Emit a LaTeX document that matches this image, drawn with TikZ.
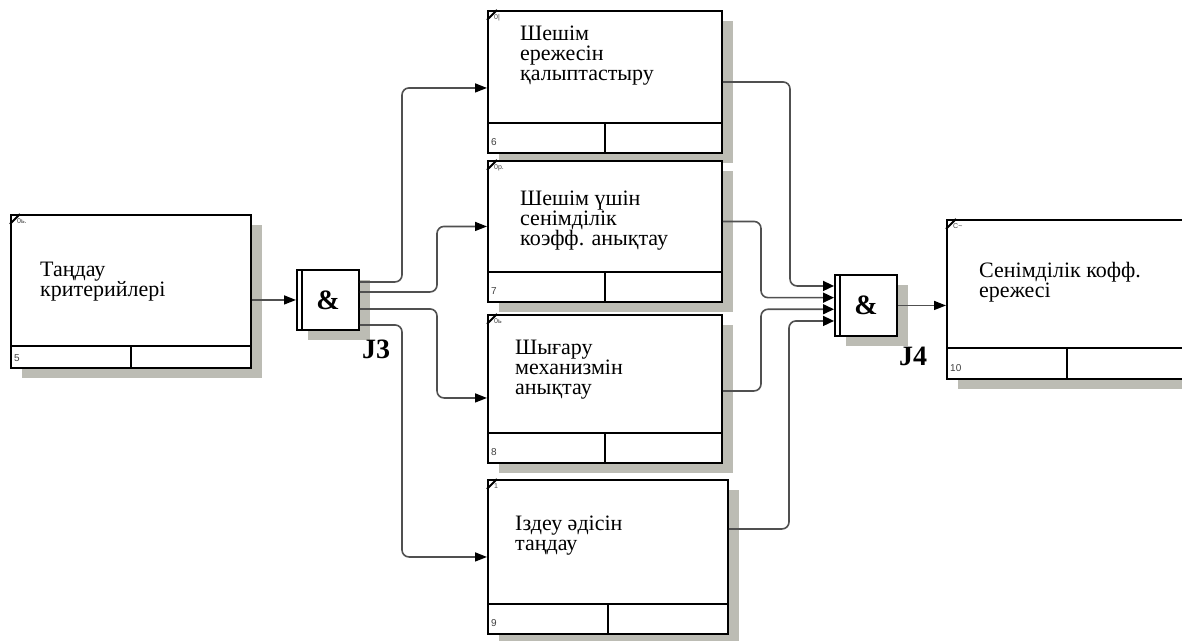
\documentclass[tikz,border=0pt]{standalone}
\usepackage{fontspec}
\setmainfont{Liberation Serif}
\newfontfamily\smallsans{Liberation Sans}
\usetikzlibrary{arrows.meta,shadows,positioning}

\definecolor{shadowgray}{RGB}{188,188,180}
\definecolor{flowgray}{RGB}{80,80,80}

\tikzset{
  uob/.style={rectangle, draw=black, line width=1.9pt, fill=white, inner sep=0pt, anchor=north west,
    drop shadow={shadow xshift=11pt, shadow yshift=-10pt, opacity=1, fill=shadowgray}},
  junc/.style={uob, minimum width=62pt, font=\fontsize{28}{28}\selectfont\bfseries},
  uobline/.style={line width=1.9pt},
  uobtext/.style={inner sep=0pt, align=left, font=\fontsize{22}{20}\selectfont},
  numtext/.style={inner sep=0pt, anchor=west, font=\smallsans\fontsize{10}{10}\selectfont, text=black!75},
  cornertext/.style={inner sep=0pt, font=\smallsans\fontsize{7}{7}\selectfont, text=black!75},
  jtext/.style={inner sep=0pt, font=\fontsize{28}{28}\selectfont\bfseries},
  flow/.style={draw=flowgray, line width=1.6pt, rounded corners=7pt,
    -{Triangle[length=12pt,width=9pt,color=black]}},
  jin/.style={flow, -{Triangle[length=11pt,width=10pt,color=black]}}
}

\begin{document}
\begin{tikzpicture}[x=1pt, y=-1pt]
\useasboundingbox (0,0) rectangle (1182,640);
\clip (0,0) rectangle (1182,640);

\node[uob, minimum width=240pt, minimum height=153pt] (b5) at (10,214) {};
\node[uob, minimum width=234pt, minimum height=142pt] (b6) at (487,10) {};
\node[uob, minimum width=234pt, minimum height=141pt] (b7) at (487,160) {};
\node[uob, minimum width=234pt, minimum height=148pt] (b8) at (487,314) {};
\node[uob, minimum width=240pt, minimum height=154pt] (b9) at (487,479) {};
\node[uob, minimum width=240pt, minimum height=159pt] (b10) at (946,219) {};

\node[junc, minimum height=60pt] (j3) at (296,269) {\&};
\node[junc, minimum height=61pt] (j4) at (834,274) {\&};

\foreach \b/\s in {b5/23, b6/31, b7/31, b8/31, b9/31, b10/32}{
  \draw[uobline] ([yshift=\s pt]\b.south west) -- ([yshift=\s pt]\b.south east);
  \draw[uobline] ([yshift=\s pt]\b.south) -- (\b.south);
  \draw[uobline] ([yshift=-10pt]\b.north west) -- ([xshift=10pt]\b.north west);
}
\foreach \j in {j3, j4}
  \draw[uobline] ([xshift=6pt]\j.north west) -- ([xshift=6pt]\j.south west);

\node[uobtext, below right=48pt and 30pt of b5.north west] (t5) {Таңдау\\критерийлері};
\node[uobtext, below right=16pt and 33pt of b6.north west] (t6) {Шешім\\ережесін\\қалыптастыру};
\node[uobtext, below right=31pt and 33pt of b7.north west] (t7) {Шешім үшін\\сенімділік\\коэфф. анықтау};
\node[uobtext, below right=26pt and 28pt of b8.north west] (t8) {Шығару\\механизмін\\анықтау};
\node[uobtext, below right=37pt and 28pt of b9.north west] (t9) {Іздеу әдісін\\таңдау};
\node[uobtext, below right=43pt and 33pt of b10.north west] (t10) {Сенімділік кофф.\\ережесі};

\node[cornertext, below right=4pt and 7pt of b5.north west] (c5) {0ь.};
\node[cornertext, below right=4pt and 7pt of b6.north west] (c6) {0|};
\node[cornertext, below right=4pt and 7pt of b7.north west] (c7) {0р.};
\node[cornertext, below right=4pt and 7pt of b8.north west] (c8) {0ь};
\node[cornertext, below right=4pt and 7pt of b9.north west] (c9) {1};
\node[cornertext, below right=4pt and 7pt of b10.north west] (c10) {С\textasciitilde};

\node[numtext] (n5) at ([xshift=4pt,yshift=11pt]b5.south west) {5};
\node[numtext] (n6) at ([xshift=4pt,yshift=12pt]b6.south west) {6};
\node[numtext] (n7) at ([xshift=4pt,yshift=12pt]b7.south west) {7};
\node[numtext] (n8) at ([xshift=4pt,yshift=12pt]b8.south west) {8};
\node[numtext] (n9) at ([xshift=4pt,yshift=12pt]b9.south west) {9};
\node[numtext] (n10) at ([xshift=4pt,yshift=12pt]b10.south west) {10};

\node[jtext, below right=9pt and 2pt of j3.south east] (l3) {J3};
\node[jtext, below right=10pt and 1pt of j4.south east] (l4) {J4};

\draw[flow] (b5.east |- j3.west) -- (j3.west);
\draw[flow] ([yshift=18pt]j3.east) -| ([xshift=-85pt,yshift=-6pt]b6.west) -- ([yshift=-6pt]b6.west);
\draw[flow] ([yshift=8pt]j3.east) -| ([xshift=-50pt,yshift=5pt]b7.west) -- ([yshift=5pt]b7.west);
\draw[flow] ([yshift=-9pt]j3.east) -| ([xshift=-50pt,yshift=-9pt]b8.west) -- ([yshift=-9pt]b8.west);
\draw[flow] ([yshift=-25pt]j3.east) -| ([xshift=-85pt]b9.west) -- (b9.west);

\draw[jin] (b6.east) -| ([xshift=-44pt,yshift=19.5pt]j4.west) -- ([yshift=19.5pt]j4.west);
\draw[jin] ([yshift=10pt]b7.east) -| ([xshift=-73pt,yshift=7.8pt]j4.west) -- ([yshift=7.8pt]j4.west);
\draw[jin] ([yshift=-2pt]b8.east) -| ([xshift=-73pt,yshift=-3.8pt]j4.west) -- ([yshift=-3.8pt]j4.west);
\draw[jin] ([yshift=28pt]b9.east) -| ([xshift=-45pt,yshift=-15.5pt]j4.west) -- ([yshift=-15.5pt]j4.west);

\draw[flow] (j4.east) -- (b10.west |- j4.east);
\end{tikzpicture}
\end{document}
